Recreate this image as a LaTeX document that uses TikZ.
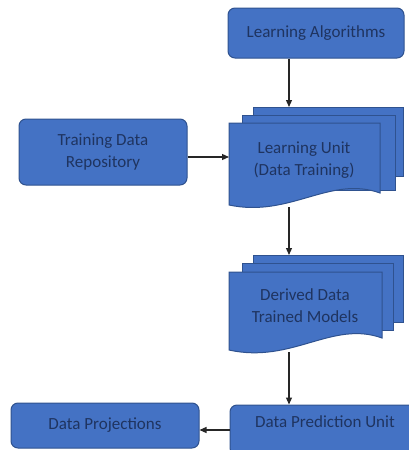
\documentclass[tikz,border=0pt]{standalone}
\usepackage{fontspec}
\setmainfont{Carlito}
\usetikzlibrary{arrows.meta}
\definecolor{boxblue}{HTML}{4472C4}
\definecolor{boxedge}{HTML}{2F528F}
\definecolor{boxtext}{HTML}{1F3460}
\tikzset{
  blockbox/.style={draw=boxedge, fill=boxblue, line width=1pt, rounded corners=7pt,
    text=boxtext, align=center, inner sep=0pt, font=\fontsize{17}{22}\selectfont},
  sheet/.style={draw=boxedge, fill=boxblue, line width=1pt},
  sheettext/.style={text=boxtext, align=center, font=\fontsize{17}{22}\selectfont},
  flow/.style={-{Triangle[length=7pt,width=6pt]}, line width=1.2pt, black!85}
}
\begin{document}
\begin{tikzpicture}[x=1pt,y=-1pt]
			\useasboundingbox (0,0) rectangle (409,450);
			\clip (0,0) rectangle (409,450);
			% boxes
			\node[blockbox, minimum width=176, minimum height=50] (algo) at (316,33) {Learning Algorithms};
			\node[blockbox, minimum width=168, minimum height=66] (repo) at (103,152) {Training Data\\Repository};
			\node[blockbox, minimum width=188, minimum height=45] (proj) at (105,425.5) {Data Projections};
			\node[blockbox, minimum width=190, minimum height=50, text depth=16pt] (predict) at (325,430) {Data Prediction Unit};
			% learning unit stack
			\draw[sheet] (253,107) rectangle (403,176);
			\draw[sheet] (242,115) rectangle (395,190);
			\draw[sheet] (229,123) -- (380,123) -- (380,193) .. controls (330,175) and (290,218) .. (229,205) -- cycle;
			\node[sheettext] (unit) at (304,160) {Learning Unit\\(Data Training)};
			\coordinate (unittop) at (289,107);
			\coordinate (unitin) at (229,157);
			\coordinate (unitout) at (289,207);
			% derived data stack
			\draw[sheet] (253,255) rectangle (403,322);
			\draw[sheet] (242,263) rectangle (393,330);
			\draw[sheet] (229,272) -- (382,272) -- (382,338) .. controls (332,320) and (292,364) .. (229,350) -- cycle;
			\node[sheettext] (derived) at (305,306) {Derived Data\\Trained Models};
			\coordinate (derivedtop) at (289,255);
			\coordinate (derivedout) at (289,352);
			% connectors
			\draw[flow] (algo.south -| unittop) -- (unittop);
			\draw[flow] (repo.east |- unitin) -- (unitin);
			\draw[flow] (unitout) -- (derivedtop);
			\draw[flow] (derivedout) -- (derivedout |- predict.north);
			\draw[flow] (predict.west) -- (proj.east |- predict.west);
\end{tikzpicture}
\end{document}
